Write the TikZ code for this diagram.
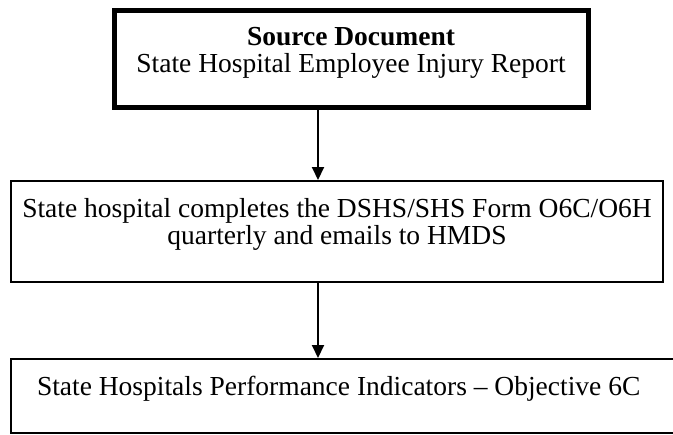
\documentclass[tikz,border=0pt]{standalone}
\usepackage{fontspec}
\setmainfont{Liberation Serif}
\usetikzlibrary{arrows.meta}
\begin{document}
\begin{tikzpicture}[x=0.5pt,y=-0.5pt,
  font=\fontsize{13.75}{13.5}\selectfont,
  box/.style={draw, line width=1pt, inner xsep=0pt, inner ysep=0pt, align=center, anchor=north},
  arr/.style={line width=1pt, -{Triangle[length=6.5pt,width=6pt]}}]
\useasboundingbox (0,0) rectangle (673,434);
\clip (0,0) rectangle (673,434);
\node[box, line width=2.5pt, minimum width=237pt, text height=31pt, text depth=17.5pt] (src) at (351,8)
  {\textbf{Source Document}\\State Hospital Employee Injury Report};
\node[box, minimum width=326pt, text height=31.5pt, text depth=19pt] (mid) at (337,180)
  {State hospital completes the DSHS/SHS Form O6C/O6H\\quarterly and emails to HMDS};
\node[box, inner xsep=13pt, text width=318.5pt, align=flush left, text height=18pt, text depth=19pt] (ind) at (355.5,358)
  {State Hospitals Performance Indicators – Objective 6C};
\coordinate (ax) at (318,0);
\draw[arr] (src.south -| ax) -- (mid.north -| ax);
\draw[arr] (mid.south -| ax) -- (ind.north -| ax);
\end{tikzpicture}
\end{document}
